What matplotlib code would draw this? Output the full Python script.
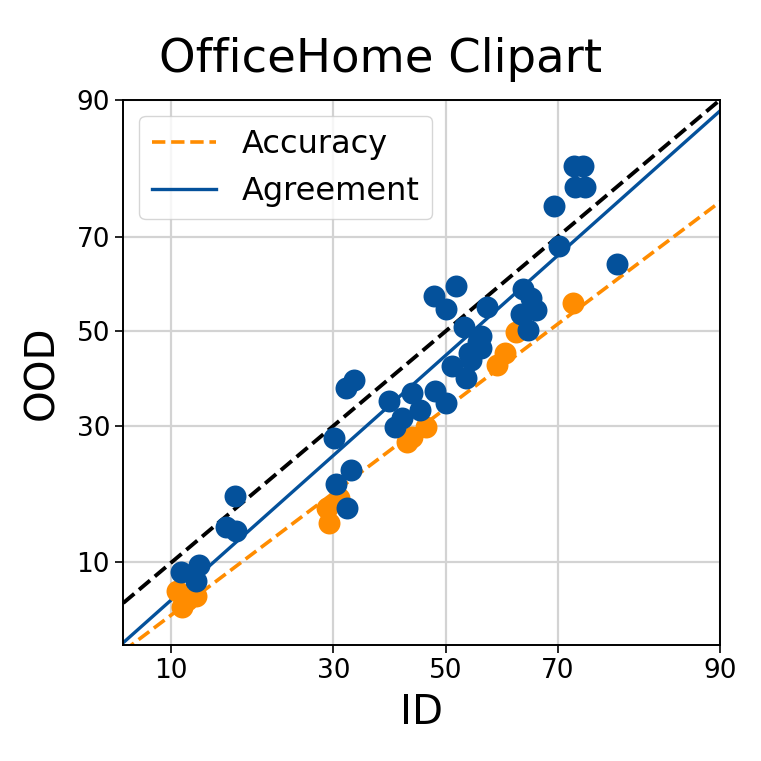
import numpy as np
import matplotlib
matplotlib.use("Agg")
import matplotlib.pyplot as plt
from statistics import NormalDist

# accuracy (%) per model: ID vs OOD
acc_id = [10.9, 10.5, 12.2, 11.3, 29.0, 29.3, 30.9, 42.8, 43.7, 46.3, 59.4, 61.0, 62.9, 72.4]
acc_ood = [6.3, 7.5, 7.1, 6.8, 16.4, 14.4, 17.8, 26.9, 27.9, 29.7, 42.5, 45.3, 49.9, 56.3]

# agreement (%) per model pair: ID vs OOD
agr_id = [10.8, 12.5, 12.2, 15.2, 16.4, 16.3, 30.1, 32.9, 30.4, 32.3, 33.4, 32.1,
          39.5, 41.9, 40.6, 43.7, 48.1, 45.2, 50.0, 51.1, 53.7, 54.3, 54.8, 56.1,
          56.6, 53.5, 56.6, 47.8, 51.9, 50.0, 57.6, 64.2, 65.5, 66.4, 63.8, 65.0,
          69.4, 70.2, 78.8, 72.6, 74.0, 72.7, 74.3]
agr_ood = [9.1, 9.8, 8.3, 13.9, 13.4, 18.1, 27.7, 22.1, 19.9, 16.4, 39.3, 37.6,
           34.9, 31.5, 29.7, 36.7, 37.0, 33.1, 34.5, 42.3, 39.7, 45.1, 43.6, 47.7,
           46.2, 51.0, 49.0, 57.8, 60.0, 55.0, 55.4, 59.3, 57.2, 54.6, 53.9, 50.2,
           75.6, 68.2, 64.6, 82.0, 82.0, 78.8, 78.8]

# linear fits in probit space (slope, intercept)
acc_fit = (0.893, -0.428)
agr_fit = (1.057, -0.134)

ticks = [10, 30, 50, 70, 90]

nd = NormalDist()
_ppf = np.vectorize(nd.inv_cdf, otypes=[float])
_cdf = np.vectorize(nd.cdf, otypes=[float])


def probit(p):
    p = np.clip(np.asarray(p, dtype=float) / 100.0, 1e-6, 1 - 1e-6)
    return _ppf(p)


def inv_probit(z):
    return _cdf(np.asarray(z, dtype=float)) * 100.0


orange = "#ff8c00"
blue = "#04519b"

fig = plt.figure(figsize=(7.61, 7.61), dpi=100)
ax = fig.add_axes([0.162, 0.1524, 0.784, 0.7162])
ax.set_xscale("function", functions=(probit, inv_probit))
ax.set_yscale("function", functions=(probit, inv_probit))

xs = inv_probit(np.linspace(probit(6.6), probit(90), 200))

ax.plot(xs, xs, color="black", ls="--", lw=2.8, zorder=2)
ax.plot(xs, inv_probit(acc_fit[0] * probit(xs) + acc_fit[1]), color=orange,
        ls="--", lw=2.6, label="Accuracy", zorder=2)
ax.plot(xs, inv_probit(agr_fit[0] * probit(xs) + agr_fit[1]), color=blue,
        ls="-", lw=2.4, label="Agreement", zorder=2)

ax.scatter(acc_id, acc_ood, s=250, color=orange, zorder=3, linewidths=0)
ax.scatter(agr_id, agr_ood, s=250, color=blue, zorder=4, linewidths=0)

ax.set_xlim(6.6, 90)
ax.set_ylim(4.1, 90)
ax.set_xticks(ticks)
ax.set_yticks(ticks)
ax.set_xticklabels([str(t) for t in ticks])
ax.set_yticklabels([str(t) for t in ticks])
ax.minorticks_off()
ax.tick_params(labelsize=19, length=6, width=1.2)
ax.grid(True, color="#d3d3d3", lw=1.6, zorder=0)
ax.set_axisbelow(True)
for s in ax.spines.values():
    s.set_linewidth(1.4)

ax.set_xlabel("ID", fontsize=29, labelpad=6)
ax.set_ylabel("OOD", fontsize=29, labelpad=10)
fig.suptitle("OfficeHome Clipart", fontsize=33.5, y=0.905, va="baseline")

ax.legend(loc="upper left", fontsize=23, handlelength=2.0, borderaxespad=0.5,
          framealpha=0.8, edgecolor="#cccccc")

fig.savefig("out.png", dpi=100)
